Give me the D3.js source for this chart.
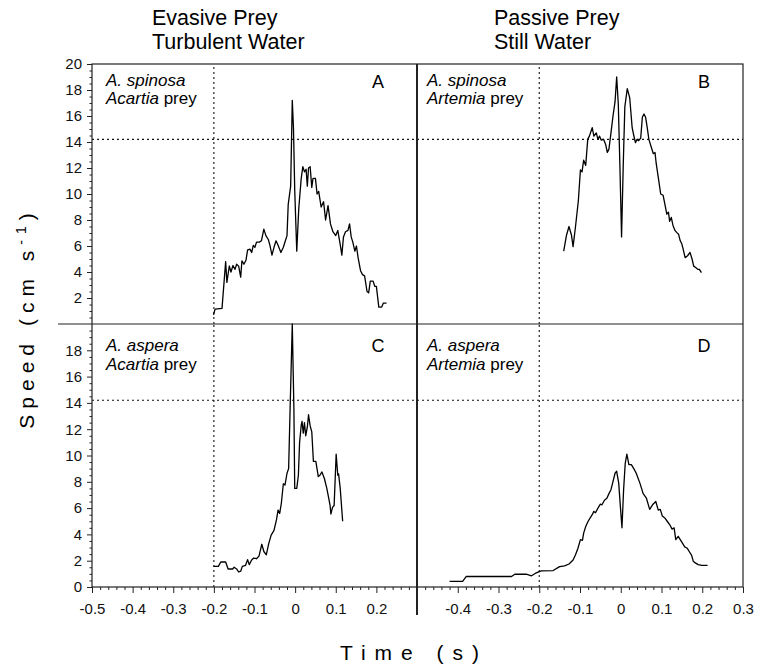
<!DOCTYPE html>
<html>
<head>
<meta charset="utf-8">
<script src="https://cdn.jsdelivr.net/npm/d3@7"></script>
<style>
  body { margin: 0; background: #fff; }
  svg { font-family: "Liberation Sans", Arial, sans-serif; }
  .axis path, .axis line { stroke: #222; }
  .axis text { font-size: 15px; fill: #111; }
</style>
</head>
<body>
<div id="chart"></div>
<script>
// speed traces, time (s) and speed (cm s-1)
var timeA = [-0.201,-0.197,-0.180,-0.171,-0.168,-0.162,-0.158,-0.153,-0.148,-0.144,-0.139,-0.134,-0.131,-0.126,-0.121,-0.117,-0.111,-0.107,-0.103,-0.099,-0.095,-0.088,-0.083,-0.077,-0.072,-0.066,-0.062,-0.057,-0.052,-0.047,-0.042,-0.035,-0.029,-0.024,-0.020,-0.017,-0.011,-0.007,-0.004,-0.001,0.004,0.009,0.015,0.019,0.023,0.027,0.030,0.033,0.037,0.041,0.044,0.050,0.054,0.058,0.064,0.070,0.075,0.081,0.087,0.093,0.100,0.105,0.111,0.115,0.119,0.124,0.130,0.134,0.138,0.142,0.147,0.151,0.155,0.161,0.166,0.171,0.177,0.181,0.185,0.192,0.196,0.200,0.206,0.213,0.217,0.225];
var speedA = [0.7,1.15,1.2,4.8,3.2,4.46,4.0,4.5,4.2,4.6,4.45,3.6,4.85,4.6,4.9,5.7,5.75,5.5,6.05,5.9,6.3,6.3,6.4,7.3,6.8,6.5,6.05,5.3,5.9,6.4,6.05,5.5,5.9,6.4,6.8,9.2,10.6,17.2,15.0,10.3,5.6,8.9,11.2,12.1,11.7,11.9,10.6,12.0,12.1,10.5,11.2,11.2,10.0,10.2,9.0,9.4,8.0,9.1,7.7,7.1,6.8,7.2,6.1,5.3,6.7,7.1,7.2,7.7,6.7,6.3,5.6,6.0,5.1,4.1,3.8,3.7,2.5,2.4,3.3,3.3,2.9,2.9,1.3,1.3,1.6,1.6];

var timeB = [-0.140,-0.133,-0.127,-0.121,-0.117,-0.111,-0.104,-0.099,-0.095,-0.091,-0.086,-0.081,-0.077,-0.070,-0.066,-0.060,-0.056,-0.052,-0.048,-0.042,-0.037,-0.033,-0.029,-0.024,-0.019,-0.014,-0.010,-0.006,-0.002,0.002,0.006,0.010,0.016,0.022,0.028,0.032,0.036,0.040,0.044,0.049,0.053,0.057,0.061,0.065,0.069,0.075,0.080,0.084,0.087,0.092,0.098,0.104,0.109,0.113,0.117,0.120,0.124,0.128,0.133,0.137,0.142,0.146,0.150,0.154,0.158,0.164,0.170,0.175,0.179,0.184,0.189,0.193,0.198];
var speedB = [5.6,6.85,7.5,6.85,5.95,7.5,9.5,11.85,11.7,12.6,12.2,14.2,14.45,15.1,14.45,14.7,14.2,14.45,14.15,14.2,13.8,13.2,13.45,14.7,16.0,17.1,19.0,16.9,12.05,6.7,12.05,16.7,18.1,17.4,15.1,14.5,13.95,14.2,14.1,14.3,15.9,16.15,15.9,15.1,14.2,13.6,13.1,13.2,12.35,11.3,10.0,9.9,9.1,8.45,8.6,7.9,8.2,7.6,7.2,7.05,6.9,6.4,6.15,5.65,5.1,5.25,5.5,5.0,4.45,4.35,4.2,4.2,3.95];

var timeC = [-0.201,-0.189,-0.183,-0.171,-0.165,-0.154,-0.150,-0.144,-0.139,-0.134,-0.130,-0.122,-0.117,-0.113,-0.107,-0.102,-0.095,-0.089,-0.082,-0.077,-0.071,-0.065,-0.059,-0.052,-0.046,-0.042,-0.038,-0.034,-0.029,-0.025,-0.020,-0.016,-0.012,-0.007,-0.003,-0.001,0.004,0.008,0.011,0.015,0.017,0.020,0.023,0.026,0.030,0.033,0.037,0.041,0.045,0.051,0.057,0.061,0.066,0.072,0.078,0.083,0.086,0.088,0.092,0.096,0.101,0.105,0.107,0.111,0.117];
var speedC = [1.57,1.57,1.9,1.9,1.37,1.37,1.5,1.37,1.14,1.2,1.57,1.65,2.08,1.7,2.05,2.2,2.15,2.35,3.25,2.7,2.45,3.3,3.95,4.3,5.1,5.85,5.6,6.35,7.85,7.75,8.65,9.0,14.0,20.0,13.5,7.5,7.5,8.5,11.0,12.3,12.6,11.7,12.5,11.5,12.15,13.1,12.25,11.8,9.55,9.55,8.4,8.5,8.75,8.25,7.5,6.7,6.2,5.55,6.05,6.2,10.1,8.5,8.6,7.5,5.0];

var timeD = [-0.420,-0.388,-0.379,-0.268,-0.260,-0.232,-0.219,-0.209,-0.195,-0.166,-0.150,-0.138,-0.127,-0.117,-0.111,-0.105,-0.099,-0.094,-0.091,-0.086,-0.080,-0.075,-0.070,-0.066,-0.062,-0.056,-0.050,-0.046,-0.040,-0.034,-0.029,-0.024,-0.020,-0.014,-0.010,-0.005,-0.001,0.003,0.007,0.011,0.015,0.020,0.026,0.032,0.038,0.047,0.055,0.063,0.071,0.078,0.086,0.092,0.097,0.102,0.108,0.114,0.120,0.126,0.131,0.135,0.141,0.146,0.151,0.157,0.163,0.168,0.174,0.178,0.182,0.190,0.199,0.213];
var speedD = [0.43,0.43,0.8,0.8,0.97,0.97,0.85,1.05,1.22,1.25,1.55,1.6,1.75,2.05,2.45,2.95,3.6,3.55,4.1,4.6,5.0,5.25,5.5,5.75,5.65,6.0,6.3,6.25,6.6,6.75,7.1,7.4,7.9,8.65,8.8,7.9,6.15,4.5,7.4,9.4,10.1,9.3,9.3,9.0,8.65,7.9,7.1,6.75,5.9,6.25,6.5,5.85,5.9,5.4,5.25,5.0,4.75,4.4,4.5,3.6,3.85,3.6,3.35,3.05,2.95,2.7,2.4,1.95,1.85,1.7,1.65,1.65];

var panelLetters = ['A', 'B', 'C', 'D'];
var species = ['A. spinosa', 'A. spinosa', 'A. aspera', 'A. aspera'];
var preyNames = ['Acartia', 'Artemia', 'Acartia', 'Artemia'];
var columnTitles = [['Evasive Prey', 'Turbulent Water'], ['Passive Prey', 'Still Water']];
var threshold = 14.2;      // dotted speed line
var strikeStart = -0.2;    // dotted time line

var width = 763, height = 667;

var svg = d3.select('#chart').append('svg')
    .attr('width', width)
    .attr('height', height);

var xScales = [
    d3.scaleLinear().domain([-0.5, 0.3]).range([92, 417]),
    d3.scaleLinear().domain([-0.5, 0.3]).range([417, 743])
];
var yScales = [
    d3.scaleLinear().domain([0, 20]).range([324, 64]),
    d3.scaleLinear().domain([0, 20]).range([587, 324])
];

var panels = [
    { t: timeA, s: speedA, col: 0, row: 0 },
    { t: timeB, s: speedB, col: 1, row: 0 },
    { t: timeC, s: speedC, col: 0, row: 1 },
    { t: timeD, s: speedD, col: 1, row: 1 }
];

var fmtTime = function(d) { return Math.abs(d) < 1e-9 ? '0' : d.toFixed(1); };
var majorX = d3.range(-5, 4).map(function(i) { return i / 10; });
var minorX = d3.range(-25, 16).map(function(i) { return i / 50; })
    .filter(function(d) { return Math.abs(Math.round(d * 10) - d * 10) > 1e-6; });
var minorY = d3.range(0, 41).map(function(i) { return i / 2; })
    .filter(function(d) { return d % 2 !== 0; });

// y axes (left column only)
yScales.forEach(function(y, r) {
    var labelled = r === 0 ? d3.range(2, 21, 2) : d3.range(0, 19, 2);
    svg.append('g')
        .attr('class', 'axis')
        .attr('transform', 'translate(92,0)')
        .call(d3.axisLeft(y).tickValues(labelled).tickSize(5).tickPadding(5).tickSizeOuter(0))
        .call(function(g) { g.select('.domain').remove(); });
    svg.append('g')
        .attr('class', 'axis')
        .attr('transform', 'translate(92,0)')
        .call(d3.axisLeft(y).tickValues(minorY).tickSize(2.5).tickFormat('').tickSizeOuter(0))
        .call(function(g) { g.select('.domain').remove(); });
});

// x axes
xScales.forEach(function(x, c) {
    var labelled = majorX.filter(function(d) { return c === 0 ? d < 0.25 : d > -0.45; });
    svg.append('g')
        .attr('class', 'axis')
        .attr('transform', 'translate(0,587)')
        .call(d3.axisBottom(x).tickValues(majorX).tickSize(6).tickPadding(10).tickSizeOuter(0)
            .tickFormat(function(d) { return labelled.some(function(v) { return Math.abs(v - d) < 1e-9; }) ? fmtTime(d) : ''; }))
        .call(function(g) { g.select('.domain').remove(); });
    svg.append('g')
        .attr('class', 'axis')
        .attr('transform', 'translate(0,587)')
        .call(d3.axisBottom(x).tickValues(minorX).tickSize(3).tickFormat('').tickSizeOuter(0))
        .call(function(g) { g.select('.domain').remove(); });
});

// reference lines
panels.forEach(function(p) {
    var x = xScales[p.col], y = yScales[p.row];
    var g = svg.append('g')
        .attr('stroke', '#111')
        .attr('stroke-width', 1.1)
        .attr('stroke-dasharray', '2,3');
    g.append('line')
        .attr('x1', x.range()[0]).attr('x2', x.range()[1])
        .attr('y1', y(threshold)).attr('y2', y(threshold));
    g.append('line')
        .attr('x1', x(strikeStart)).attr('x2', x(strikeStart))
        .attr('y1', y.range()[0]).attr('y2', y.range()[1]);
});

// frame
var frame = svg.append('g').attr('stroke', '#222').attr('fill', 'none');
frame.append('rect')
    .attr('x', 92).attr('y', 64)
    .attr('width', 743 - 92).attr('height', 587 - 64)
    .attr('stroke-width', 1.2);
frame.append('line')
    .attr('x1', 58).attr('x2', 743).attr('y1', 324).attr('y2', 324)
    .attr('stroke-width', 1.2);
frame.append('line')
    .attr('x1', 417).attr('x2', 417).attr('y1', 64).attr('y2', 615)
    .attr('stroke-width', 2);

// traces
panels.forEach(function(p) {
    var x = xScales[p.col], y = yScales[p.row];
    var line = d3.line()
        .x(function(d, i) { return x(p.t[i]); })
        .y(function(d) { return y(d); });
    svg.append('path')
        .datum(p.s)
        .attr('d', line)
        .attr('fill', 'none')
        .attr('stroke', '#000')
        .attr('stroke-width', 1.3)
        .attr('stroke-linejoin', 'round');
});

// panel labels
panels.forEach(function(p, i) {
    var x = xScales[p.col], y = yScales[p.row];
    var left = x.range()[0] + (p.col === 0 ? 14 : 10);
    var top = y.range()[1];
    var off = p.row === 0 ? [22, 40] : [27, 46];
    svg.append('text')
        .attr('x', left).attr('y', top + off[0])
        .style('font-size', '17px').style('font-style', 'italic')
        .text(species[i]);
    var t2 = svg.append('text')
        .attr('x', left).attr('y', top + off[1])
        .style('font-size', '17px');
    t2.append('tspan').style('font-style', 'italic').text(preyNames[i]);
    t2.append('tspan').text(' prey');
    svg.append('text')
        .attr('x', x.range()[1] - 39).attr('y', top + (p.row === 0 ? 24 : 28))
        .attr('text-anchor', 'middle')
        .style('font-size', '18px')
        .text(panelLetters[i]);
});

// column titles
columnTitles.forEach(function(lines, c) {
    lines.forEach(function(s, j) {
        svg.append('text')
            .attr('x', c === 0 ? 152 : 494)
            .attr('y', 25 + j * 24)
            .style('font-size', '21.5px')
            .text(s);
    });
});

// axis titles
svg.append('text')
    .attr('x', 414).attr('y', 660)
    .attr('text-anchor', 'middle')
    .style('font-size', '21px')
    .style('letter-spacing', '9px')
    .text('Time (s)');

var ylab = svg.append('text')
    .attr('transform', 'translate(34,318) rotate(-90)')
    .attr('text-anchor', 'middle')
    .style('font-size', '21px')
    .style('letter-spacing', '6px');
ylab.append('tspan').text('Speed (cm s');
ylab.append('tspan').attr('dy', -8).style('font-size', '14px').text('-1');
ylab.append('tspan').attr('dy', 8).text(')');
</script>
</body>
</html>
